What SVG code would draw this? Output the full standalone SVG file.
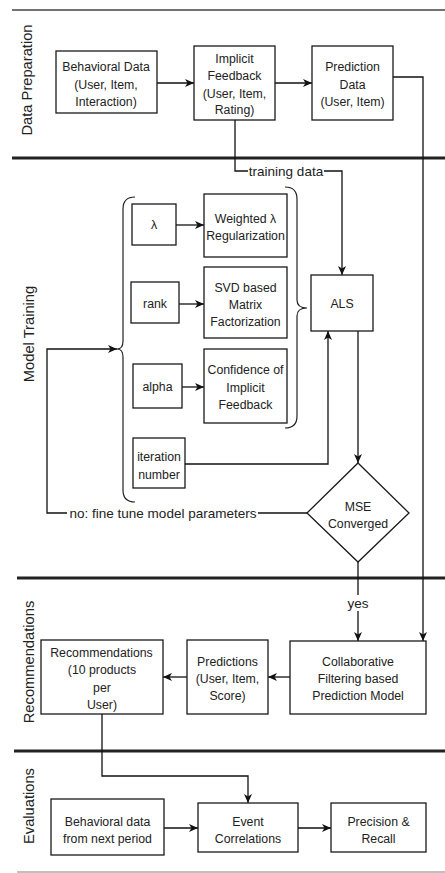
<svg xmlns="http://www.w3.org/2000/svg" width="445" height="873" viewBox="0 0 445 873">
  <style>
    .box { fill: #ffffff; stroke: #1a1a1a; stroke-width: 1.3; }
    .edge { fill: none; stroke: #111111; stroke-width: 1.3; }
    .brace { fill: none; stroke: #222222; stroke-width: 1.2; }
    .sep { stroke: #222222; stroke-width: 3; }
    .t { font-family: "Liberation Sans", Arial, sans-serif; font-size: 12.3px; fill: #222222; text-anchor: middle; dominant-baseline: central; }
    .lbl { font-family: "Liberation Sans", Arial, sans-serif; font-size: 13.5px; fill: #222222; text-anchor: middle; dominant-baseline: central; }
    .lane { font-family: "Liberation Sans", Arial, sans-serif; font-size: 14.7px; fill: #222222; text-anchor: middle; dominant-baseline: central; }
  </style>
  <defs>
    <marker id="arrow" markerUnits="userSpaceOnUse" markerWidth="10" markerHeight="9" refX="9" refY="4" orient="auto">
      <path d="M0,0 L9,4 L0,8 L2.5,4 Z" fill="#111111"/>
    </marker>
  </defs>

  <rect width="445" height="873" fill="#ffffff"/>

  <!-- swimlane separators -->
  <g id="lanes">
    <line x1="12" y1="10" x2="445" y2="10" stroke="#444444" stroke-width="1.6"/>
    <line class="sep" x1="12" y1="158" x2="445" y2="158"/>
    <line class="sep" x1="17" y1="578" x2="445" y2="578"/>
    <line class="sep" x1="14" y1="751" x2="445" y2="751"/>
    <line x1="17" y1="872" x2="445" y2="872" stroke="#aaaaaa" stroke-width="1.6"/>
    <text class="lane" transform="translate(27,80) rotate(-90)">Data Preparation</text>
    <text class="lane" transform="translate(29,334) rotate(-90)">Model Training</text>
    <text class="lane" transform="translate(29,662) rotate(-90)">Recommendations</text>
    <text class="lane" transform="translate(29,806) rotate(-90)">Evaluations</text>
  </g>

  <!-- connectors -->
  <g id="connectors">
    <path class="edge" d="M157,83 L194,83" marker-end="url(#arrow)"/>
    <path class="edge" d="M275,83 L312,83" marker-end="url(#arrow)"/>
    <path class="edge" d="M235,120 L235,171 L342,171 L342,275" marker-end="url(#arrow)"/>
    <path class="edge" d="M393,77 L423,77 L423,641" marker-end="url(#arrow)"/>
    <path class="edge" d="M176,225 L204,225" marker-end="url(#arrow)"/>
    <path class="edge" d="M179,304 L204,304" marker-end="url(#arrow)"/>
    <path class="edge" d="M182,387 L204,387" marker-end="url(#arrow)"/>
    <path class="edge" d="M185,464 L328,464 L328,331" marker-end="url(#arrow)"/>
    <path class="edge" d="M358,331 L358,463" marker-end="url(#arrow)"/>
    <path class="edge" d="M307,513 L47,513 L47,349 L117,349" marker-end="url(#arrow)"/>
    <path class="edge" d="M358,562 L358,641" marker-end="url(#arrow)"/>
    <path class="edge" d="M290,677 L268,677" marker-end="url(#arrow)"/>
    <path class="edge" d="M187,677 L163,677" marker-end="url(#arrow)"/>
    <path class="edge" d="M102,714 L102,776 L248,776 L248,803" marker-end="url(#arrow)"/>
    <path class="edge" d="M164,828 L198,828" marker-end="url(#arrow)"/>
    <path class="edge" d="M298,828 L331,828" marker-end="url(#arrow)"/>
    <!-- edge labels -->
    <rect x="248" y="163" width="76" height="16" fill="#ffffff"/>
    <text class="lbl" x="286" y="171">training data</text>
    <rect x="67" y="505" width="191" height="16" fill="#ffffff"/>
    <text class="lbl" x="163" y="513">no: fine tune model parameters</text>
    <rect x="346" y="595" width="24" height="16" fill="#ffffff"/>
    <text class="lbl" x="358" y="603">yes</text>
  </g>

  <!-- parameter braces -->
  <g id="param-brace">
    <path class="brace" d="M135,197 Q123,197 123,209 L123,341 Q123,349 117,349 Q123,349 123,357 L123,490 Q123,502 135,502"/>
  </g>
  <g id="method-brace">
    <path class="brace" d="M285,187 Q297,187 297,199 L297,300 Q297,308 307,308 Q297,308 297,316 L297,416 Q297,428 285,428"/>
  </g>

  <!-- Data Preparation -->
  <g id="behavioral-data">
    <rect class="box" x="56" y="51" width="101" height="62"/>
    <text class="t" x="106" y="67">Behavioral Data</text>
    <text class="t" x="106" y="85">(User, Item,</text>
    <text class="t" x="106" y="102">Interaction)</text>
  </g>
  <g id="implicit-feedback">
    <rect class="box" x="194" y="46" width="81" height="74"/>
    <text class="t" x="234.5" y="58.5">Implicit</text>
    <text class="t" x="234.5" y="76">Feedback</text>
    <text class="t" x="234.5" y="93.5">(User, Item,</text>
    <text class="t" x="234.5" y="110">Rating)</text>
  </g>
  <g id="prediction-data">
    <rect class="box" x="312" y="46" width="81" height="74"/>
    <text class="t" x="352.5" y="67">Prediction</text>
    <text class="t" x="352.5" y="85">Data</text>
    <text class="t" x="352.5" y="102">(User, Item)</text>
  </g>

  <!-- Model Training -->
  <g id="lambda">
    <rect class="box" x="132" y="204" width="44" height="41"/>
    <text class="t" x="154" y="225">λ</text>
  </g>
  <g id="weighted-regularization">
    <rect class="box" x="204" y="194" width="83" height="63"/>
    <text class="t" x="245.5" y="218.5">Weighted λ</text>
    <text class="t" x="245.5" y="236">Regularization</text>
  </g>
  <g id="rank">
    <rect class="box" x="131" y="282" width="48" height="41"/>
    <text class="t" x="155" y="304">rank</text>
  </g>
  <g id="svd-factorization">
    <rect class="box" x="204" y="267" width="83" height="71"/>
    <text class="t" x="245.5" y="287.5">SVD based</text>
    <text class="t" x="245.5" y="305">Matrix</text>
    <text class="t" x="245.5" y="322">Factorization</text>
  </g>
  <g id="alpha">
    <rect class="box" x="133" y="364" width="49" height="44"/>
    <text class="t" x="157.5" y="387">alpha</text>
  </g>
  <g id="implicit-confidence">
    <rect class="box" x="204" y="349" width="83" height="74"/>
    <text class="t" x="245.5" y="370">Confidence of</text>
    <text class="t" x="245.5" y="387.5">Implicit</text>
    <text class="t" x="245.5" y="404.5">Feedback</text>
  </g>
  <g id="iteration-number">
    <rect class="box" x="133" y="438" width="52" height="50"/>
    <text class="t" x="159" y="457">iteration</text>
    <text class="t" x="159" y="475">number</text>
  </g>
  <g id="als">
    <rect class="box" x="311" y="275" width="62" height="56"/>
    <text class="t" x="342" y="304">ALS</text>
  </g>
  <g id="mse-converged">
    <path class="box" d="M358,463 L409,513 L358,562 L307,513 Z"/>
    <text class="t" x="358" y="507">MSE</text>
    <text class="t" x="358" y="524">Converged</text>
  </g>

  <!-- Recommendations -->
  <g id="cf-model">
    <rect class="box" x="290" y="641" width="136" height="73"/>
    <text class="t" x="358" y="662">Collaborative</text>
    <text class="t" x="358" y="679">Filtering based</text>
    <text class="t" x="358" y="696">Prediction Model</text>
  </g>
  <g id="predictions">
    <rect class="box" x="187" y="640" width="81" height="74"/>
    <text class="t" x="227.5" y="662">Predictions</text>
    <text class="t" x="227.5" y="679">(User, Item,</text>
    <text class="t" x="227.5" y="696">Score)</text>
  </g>
  <g id="recommendations">
    <rect class="box" x="41" y="640" width="122" height="74"/>
    <text class="t" x="101.5" y="653">Recommendations</text>
    <text class="t" x="102" y="670">(10 products</text>
    <text class="t" x="102" y="688">per</text>
    <text class="t" x="102" y="704.5">User)</text>
  </g>

  <!-- Evaluations -->
  <g id="next-period-data">
    <rect class="box" x="51" y="799" width="113" height="56"/>
    <text class="t" x="107.5" y="822">Behavioral data</text>
    <text class="t" x="107.5" y="838.5">from next period</text>
  </g>
  <g id="event-correlations">
    <rect class="box" x="198" y="803" width="100" height="49"/>
    <text class="t" x="248" y="822">Event</text>
    <text class="t" x="248" y="838.5">Correlations</text>
  </g>
  <g id="precision-recall">
    <rect class="box" x="331" y="803" width="95" height="49"/>
    <text class="t" x="378.5" y="822">Precision &amp;</text>
    <text class="t" x="378.5" y="838.5">Recall</text>
  </g>
</svg>
